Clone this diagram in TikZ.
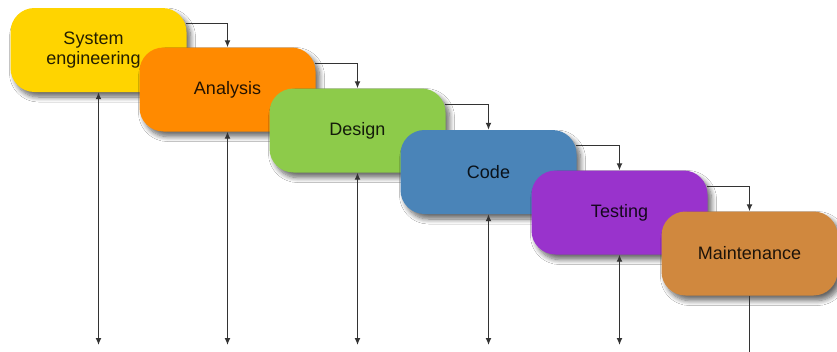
\documentclass[tikz,border=0pt]{standalone}
\usepackage{fontspec}
\setmainfont{Liberation Sans}
\usetikzlibrary{arrows.meta,shadows.blur,calc}
\definecolor{cyellow}{HTML}{FFD400}
\definecolor{corange}{HTML}{FF8A00}
\definecolor{cgreen}{HTML}{8DCB4A}
\definecolor{cblue}{HTML}{4A84B8}
\definecolor{cpurple}{HTML}{9933CC}
\definecolor{ccopper}{HTML}{D0883E}
\definecolor{lineclr}{HTML}{333333}
\tikzset{
  phase/.style={draw=none, fill=#1, rounded corners=24pt,
    minimum width=176pt, minimum height=84pt, inner sep=0pt,
    align=center, font=\fontsize{18}{20}\selectfont,
    text=#1!14!black,
    blur shadow={shadow xshift=4pt, shadow yshift=-5pt, shadow blur steps=8, shadow opacity=60, shadow blur radius=5pt}},
  conn/.style={draw=lineclr, line width=1.3pt, -{Latex[length=7pt,width=6pt]}},
  vconn/.style={draw=lineclr, line width=1.3pt, {Latex[length=7pt,width=6pt]}-{Latex[length=7pt,width=6pt]}},
  plain/.style={draw=lineclr, line width=1.3pt}
}
\begin{document}
\begin{tikzpicture}[x=1pt,y=-1pt]
\useasboundingbox (0,0) rectangle (837,351);
\fill[white] (0,0) rectangle (837,351);
\node[phase=cyellow] (s1) at (98.5,50) {\hspace*{-10pt}\begin{tabular}{@{}c@{}}System\\engineering\end{tabular}};
\node[phase=corange] (s2) at (227.5,89.5) {Analysis};
\node[phase=cgreen] (s3) at (357.5,130.5) {Design};
\node[phase=cblue] (s4) at (488.5,172) {Code};
\node[phase=cpurple] (s5) at (619.5,212.5) {Testing};
\node[phase=ccopper] (s6) at (749.5,253.5) {Maintenance};
\coordinate (bot) at (0,345);
\coordinate (edge) at (0,352);
\foreach \a/\b in {s1/s2,s2/s3,s3/s4,s4/s5,s5/s6}{
  \coordinate (\a r) at ([yshift=-16pt,xshift=-1pt]\a.north east);
  \draw[conn] (\a r) -| (\b.north);
}
\foreach \a in {s1,s2,s3,s4,s5}{
  \draw[vconn] (\a.south) -- (\a.south |- bot);
}
\draw[plain] (s6.south) -- (s6.south |- edge);
\end{tikzpicture}
\end{document}
